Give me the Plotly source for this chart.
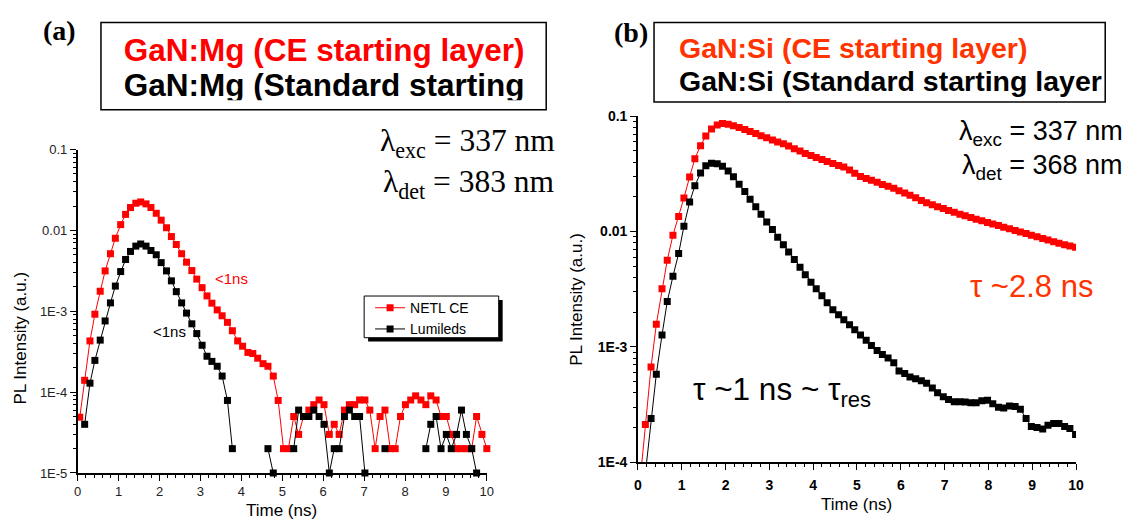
import plotly.graph_objects as go

W, H = 1133, 529

# ---------------- panel (a): GaN:Mg -----------------
t_mg = [0.05, 0.17, 0.30, 0.42, 0.55, 0.67, 0.80, 0.92, 1.05, 1.17,
        1.29, 1.42, 1.54, 1.67, 1.79, 1.92, 2.04, 2.17, 2.29, 2.41,
        2.54, 2.66, 2.79, 2.91, 3.04, 3.16, 3.28, 3.41, 3.53, 3.66,
        3.78, 3.91, 4.03, 4.16, 4.28, 4.40, 4.53, 4.65, 4.78, 4.90,
        5.03, 5.15, 5.28, 5.40, 5.52, 5.65, 5.77, 5.90, 6.02, 6.15,
        6.27, 6.39, 6.52, 6.64, 6.77, 6.89, 7.02, 7.14, 7.27, 7.39,
        7.51, 7.64, 7.76, 7.89, 8.01, 8.14, 8.26, 8.39, 8.51, 8.63,
        8.76, 8.88, 9.01, 9.13, 9.26, 9.38, 9.50, 9.63, 9.75, 9.88,
        10.00]

netl_ce = [4.9e-5, 1.4e-4, 4.3e-4, 9.2e-4, 1.77e-3, 3.16e-3, 5.15e-3, 8.0e-3, 1.18e-2, 1.58e-2,
           1.92e-2, 2.17e-2, 2.25e-2, 2.13e-2, 1.92e-2, 1.63e-2, 1.34e-2, 1.08e-2, 8.4e-3, 6.7e-3,
           5.15e-3, 4.05e-3, 3.19e-3, 2.5e-3, 1.96e-3, 1.55e-3, 1.26e-3, 1.04e-3, 8.8e-4, 7.3e-4,
           5.75e-4, 4.3e-4, 3.7e-4, 3.1e-4, 3.0e-4, 2.63e-4, 2.25e-4, 2.09e-4, 1.58e-4, 7.9e-5,
           2e-5, 2e-5, 5e-5, 3e-5, 5e-5, 6e-5, 7e-5, 8e-5, 7e-5, 3e-5,
           4e-5, 3e-5, 6e-5, 7e-5, 7e-5, 8e-5, 8e-5, 6e-5, 2e-5, 5e-5,
           6e-5, 2e-5, 2e-5, 5e-5, 7e-5, 8e-5, 9e-5, 8e-5, 7e-5, 9e-5,
           8e-5, 5e-5, 5e-5, 3e-5, 2e-5, 2e-5, 2e-5, 2e-5, 5e-5, 3e-5,
           2e-5]

lumileds = [None, 4e-5, 1.29e-4, 2.47e-4, 4.4e-4, 7.6e-4, 1.27e-3, 2.05e-3, 3.1e-3, 4.37e-3,
            5.5e-3, 6.4e-3, 6.8e-3, 6.4e-3, 5.65e-3, 5.0e-3, 4.0e-3, 3.16e-3, 2.38e-3, 1.75e-3,
            1.27e-3, 9.5e-4, 7.0e-4, 5.3e-4, 3.8e-4, 2.78e-4, 2.4e-4, 2.09e-4, 1.58e-4, 7.9e-5,
            2e-5, None, None, None, None, None, None, 2e-5, 1e-5, None,
            None, None, 2e-5, 6e-5, 5e-5, 5e-5, 6e-5, 5e-5, 4e-5, 1e-5,
            2e-5, 2e-5, 5e-5, 6e-5, 5e-5, 5e-5, 1e-5, None, None, None,
            2e-5, None, None, None, None, None, None, None, 2e-5, 4e-5,
            5e-5, 2e-5, 3e-5, 2e-5, 3e-5, 6e-5, 3e-5, 2e-5, 1e-5, None,
            None]

# ---------------- panel (b): GaN:Si -----------------
t_si = [0.04, 0.17, 0.30, 0.42, 0.55, 0.67, 0.80, 0.93, 1.05, 1.18,
        1.30, 1.43, 1.55, 1.68, 1.81, 1.93, 2.06, 2.18, 2.31, 2.44,
        2.56, 2.69, 2.81, 2.94, 3.07, 3.19, 3.32, 3.44, 3.57, 3.70,
        3.82, 3.95, 4.07, 4.20, 4.32, 4.45, 4.58, 4.70, 4.83, 4.95,
        5.08, 5.21, 5.33, 5.46, 5.58, 5.71, 5.84, 5.96, 6.09, 6.21,
        6.34, 6.47, 6.59, 6.72, 6.84, 6.97, 7.09, 7.22, 7.35, 7.47,
        7.60, 7.72, 7.85, 7.98, 8.10, 8.23, 8.35, 8.48, 8.61, 8.73,
        8.86, 8.98, 9.11, 9.24, 9.36, 9.49, 9.61, 9.74, 9.86, 9.99]

si_ce = [6.3e-5, 2.13e-4, 6.7e-4, 1.57e-3, 3.2e-3, 5.65e-3, 9.3e-3, 1.35e-2, 1.95e-2, 2.97e-2,
         4.28e-2, 5.55e-2, 6.73e-2, 7.75e-2, 8.37e-2, 8.65e-2, 8.5e-2, 8.27e-2, 7.96e-2, 7.66e-2,
         7.36e-2, 7.06e-2, 6.76e-2, 6.49e-2, 6.22e-2, 5.98e-2, 5.75e-2, 5.5e-2, 5.22e-2, 4.98e-2,
         4.74e-2, 4.55e-2, 4.37e-2, 4.2e-2, 4.05e-2, 3.89e-2, 3.74e-2, 3.62e-2, 3.42e-2, 3.2e-2,
         3.0e-2, 2.88e-2, 2.78e-2, 2.67e-2, 2.56e-2, 2.47e-2, 2.37e-2, 2.26e-2, 2.16e-2, 2.06e-2,
         1.96e-2, 1.86e-2, 1.78e-2, 1.71e-2, 1.64e-2, 1.58e-2, 1.52e-2, 1.47e-2, 1.41e-2, 1.37e-2,
         1.32e-2, 1.28e-2, 1.24e-2, 1.2e-2, 1.165e-2, 1.13e-2, 1.09e-2, 1.057e-2, 1.02e-2, 9.9e-3,
         9.6e-3, 9.3e-3, 9.0e-3, 8.7e-3, 8.43e-3, 8.17e-3, 7.9e-3, 7.69e-3, 7.5e-3, 7.3e-3]

si_std = [None, 8e-5, 2.4e-4, 5.8e-4, 1.27e-3, 2.47e-3, 4.1e-3, 6.45e-3, 1.11e-2, 1.8e-2,
          2.49e-2, 3.22e-2, 3.71e-2, 3.9e-2, 3.87e-2, 3.67e-2, 3.34e-2, 2.99e-2, 2.57e-2, 2.22e-2,
          1.9e-2, 1.64e-2, 1.41e-2, 1.21e-2, 1.04e-2, 8.9e-3, 7.7e-3, 6.64e-3, 5.73e-3, 4.9e-3,
          4.23e-3, 3.64e-3, 3.2e-3, 2.78e-3, 2.41e-3, 2.1e-3, 1.9e-3, 1.72e-3, 1.56e-3, 1.41e-3,
          1.27e-3, 1.14e-3, 1.03e-3, 9.3e-4, 8.6e-4, 8.0e-4, 7.3e-4, 6.2e-4, 5.9e-4, 5.5e-4,
          5.3e-4, 5.1e-4, 4.85e-4, 4.4e-4, 4.0e-4, 3.7e-4, 3.5e-4, 3.35e-4, 3.35e-4, 3.33e-4,
          3.28e-4, 3.28e-4, 3.42e-4, 3.45e-4, 3.22e-4, 3.0e-4, 2.95e-4, 3.08e-4, 3.05e-4, 2.88e-4,
          2.4e-4, 2.04e-4, 2.0e-4, 1.94e-4, 2.1e-4, 2.17e-4, 2.17e-4, 2.04e-4, 1.96e-4, 1.74e-4]

decade_vals_a = [1e-5, 1e-4, 1e-3, 1e-2, 1e-1]
decade_text_a = ["1E-5", "1E-4", "1E-3", "0.01", "0.1"]
decade_vals_b = [1e-4, 1e-3, 1e-2, 1e-1]
decade_text_b = ["1E-4", "1E-3", "0.01", "0.1"]

RED = "#FF0000"
ORANGE = "#FF3300"
SANS = "Liberation Sans"
SERIF = "Liberation Serif"


def px(x):
    return x / W


def py(y):
    return 1 - y / H


def minor_log(lo, hi):
    return [m * 10.0 ** e for e in range(lo, hi) for m in range(2, 10)]


fig = go.Figure()

marker_kw = dict(symbol="square", size=7, line=dict(width=0))

fig.add_trace(go.Scatter(x=t_mg, y=netl_ce, mode="lines+markers", name="NETL CE",
                         line=dict(color=RED, width=1), marker=dict(color=RED, **marker_kw),
                         connectgaps=False, cliponaxis=False, xaxis="x", yaxis="y"))
fig.add_trace(go.Scatter(x=t_mg, y=lumileds, mode="lines+markers", name="Lumileds",
                         line=dict(color="black", width=1), marker=dict(color="black", **marker_kw),
                         connectgaps=False, cliponaxis=False, xaxis="x", yaxis="y"))
fig.add_trace(go.Scatter(x=t_si, y=si_ce, mode="lines+markers", showlegend=False,
                         line=dict(color=RED, width=1), marker=dict(color=RED, **marker_kw),
                         xaxis="x2", yaxis="y2"))
fig.add_trace(go.Scatter(x=t_si, y=si_std, mode="lines+markers", showlegend=False,
                         line=dict(color="black", width=1), marker=dict(color="black", **marker_kw),
                         xaxis="x2", yaxis="y2"))

# header text of panel (a), clipped by its frame
fig.add_trace(go.Scatter(x=[121, 121], y=[47, 83], mode="text", showlegend=False,
                         text=["GaN:Mg (CE starting layer)", "GaN:Mg (Standard starting"],
                         textposition="middle right",
                         textfont=dict(family=SANS, size=31.5, color=[RED, "black"], weight="bold"),
                         hoverinfo="skip", cliponaxis=True, xaxis="x3", yaxis="y3"))

axis_common = dict(showline=True, linecolor="black", linewidth=1.5, showgrid=False,
                   zeroline=False, ticks="outside", ticklen=6, tickwidth=1.2,
                   tickcolor="black", fixedrange=True)

fig.update_layout(
    width=W, height=H, margin=dict(l=0, r=0, t=0, b=0),
    paper_bgcolor="white", plot_bgcolor="white",
    xaxis=dict(domain=[px(74.5), px(488)], range=[0, 10], dtick=1, tick0=0,
               tickfont=dict(family=SANS, size=13, color="#222"),
               minor=dict(dtick=0.2, ticks="outside", ticklen=3, tickcolor="black"),
               anchor="y", **axis_common),
    yaxis=dict(domain=[py(479.5), py(146)], type="log", range=[-5, -1],
               tickmode="array", tickvals=decade_vals_a, ticktext=decade_text_a,
               tickfont=dict(family=SANS, size=13, color="#222"),
               minor=dict(tickmode="array", tickvals=minor_log(-5, -1), ticks="outside",
                          ticklen=3, tickcolor="black"),
               anchor="x", **axis_common),
    xaxis2=dict(domain=[px(640.7), px(1083.5)], range=[0, 10], dtick=1, tick0=0,
                tickfont=dict(family=SANS, size=14, color="black", weight="bold"),
                minor=dict(dtick=0.2, ticks="outside", ticklen=3, tickcolor="black"),
                ticklabelstandoff=3, anchor="y2", **axis_common),
    yaxis2=dict(domain=[py(468.5), py(111.5)], type="log", range=[-4, -1],
                tickmode="array", tickvals=decade_vals_b, ticktext=decade_text_b,
                tickfont=dict(family=SANS, size=14, color="black", weight="bold"),
                minor=dict(tickmode="array", tickvals=minor_log(-4, -1), ticks="outside",
                           ticklen=3, tickcolor="black"),
                anchor="x2", **axis_common),
    xaxis3=dict(domain=[px(99), px(547)], range=[99, 547], visible=False, fixedrange=True,
                anchor="y3"),
    yaxis3=dict(domain=[py(95), py(16)], range=[95, 16], visible=False, fixedrange=True,
                anchor="x3"),
    legend=dict(x=px(370), y=py(293), xanchor="left", yanchor="top",
                bgcolor="rgba(0,0,0,0)", borderwidth=0,
                font=dict(family=SANS, size=14, color="black"), tracegroupgap=0,
                itemwidth=30),
    showlegend=True,
)

shapes = [
    # header frames
    dict(type="rect", xref="paper", yref="paper", x0=px(98), x1=px(548), y0=py(105), y1=py(15),
         line=dict(color="black", width=1.5), layer="above"),
    dict(type="rect", xref="paper", yref="paper", x0=px(657), x1=px(1113), y0=py(97), y1=py(15),
         line=dict(color="black", width=1.5), layer="above"),
    # legend frame with drop shadow
    dict(type="rect", xref="paper", yref="paper", x0=px(368), x1=px(504), y0=py(344), y1=py(301),
         line=dict(width=0), fillcolor="black", layer="above"),
    dict(type="rect", xref="paper", yref="paper", x0=px(364), x1=px(500), y0=py(340), y1=py(297),
         line=dict(color="black", width=1), fillcolor="white", layer="above"),
]
fig.update_layout(shapes=shapes)


def ann(x, y, text, size, color="black", family=SANS, xanchor="center", yanchor="middle",
        textangle=0):
    return dict(x=px(x), y=py(y), xref="paper", yref="paper", text=text, showarrow=False,
                xanchor=xanchor, yanchor=yanchor, textangle=textangle,
                font=dict(family=family, size=size, color=color))


annotations = [
    ann(56, 23, "<b>(a)</b>", 28, family=SERIF),
    ann(634, 25, "<b>(b)</b>", 28, family=SERIF),
    ann(559, 139, "λ<sub>exc</sub> = 337 nm", 31.5, family=SERIF, xanchor="right"),
    ann(559, 182, "λ<sub>det</sub> = 383 nm", 31.5, family=SERIF, xanchor="right"),
    ann(230, 279, "&lt;1ns", 15, color=RED),
    ann(167, 334, "&lt;1ns", 15),
    ann(280, 518, "Time (ns)", 17),
    ann(17, 340, "PL Intensity (a.u.)", 17, textangle=-90),
    ann(680, 41, "<b>GaN:Si (CE starting layer)</b>", 28.5, color=ORANGE, xanchor="left"),
    ann(680, 75, "<b>GaN:Si (Standard starting layer</b>", 28.5, xanchor="left"),
    ann(1133, 129, "λ<sub>exc</sub> = 337 nm", 27, xanchor="right"),
    ann(1133, 164, "λ<sub>det</sub> = 368 nm", 27, xanchor="right"),
    ann(1039, 287, "τ ~2.8 ns", 31, color=ORANGE),
    ann(694, 395, "τ ~1 ns ~ τ<sub>res</sub>", 31.5, xanchor="left"),
    ann(862, 512, "Time (ns)", 17),
    ann(579, 300, "PL Intensity (a.u.)", 17, textangle=-90),
]
fig.update_layout(annotations=annotations)

fig.write_html("out.html")
